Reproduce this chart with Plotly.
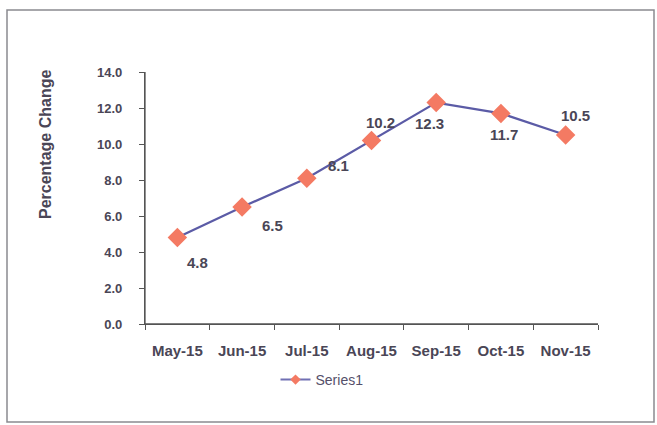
import plotly.graph_objects as go

months = ["May-15", "Jun-15", "Jul-15", "Aug-15", "Sep-15", "Oct-15", "Nov-15"]
values = [4.8, 6.5, 8.1, 10.2, 12.3, 11.7, 10.5]
y_ticks = [0, 2, 4, 6, 8, 10, 12, 14]
# label offsets (pixels) relative to each point
label_dx = [20, 30, 32, 9, -7, 3, 10]
label_dy = [-25, -18, 13, 18, -21, -21, 20]

W, H = 657, 425
L, R, T, B = 145, 59, 72, 101
pw, ph = W - L - R, H - T - B
FONT = "Liberation Sans, Arial"
TXT = "#4a4656"
AX = "#555555"

fig = go.Figure()
fig.add_trace(go.Scatter(
    x=months, y=values, mode="lines+markers", name="Series1",
    showlegend=False,
    line=dict(color="#5b5ba6", width=2.2),
    marker=dict(symbol="diamond", size=15, color="#f47a63",
                line=dict(color="#f47a63", width=0)),
))
# legend entry (smaller marker, like the original legend key)
fig.add_trace(go.Scatter(
    x=[None], y=[None], mode="lines+markers", name="Series1",
    line=dict(color="#7070b4", width=2),
    marker=dict(symbol="diamond", size=8, color="#f47a63"),
))

for m, v, dx, dy in zip(months, values, label_dx, label_dy):
    fig.add_annotation(x=m, y=v, text=f"<b>{v:.1f}</b>", showarrow=False,
                       xshift=dx, yshift=dy,
                       font=dict(family=FONT, size=15, color=TXT))

def px_x(p):
    return (p - L) / pw

def px_y(p):
    return (H - B - p) / ph

fig.add_annotation(xref="paper", yref="paper",
                   x=px_x(45), y=px_y(145), xanchor="center", yanchor="middle",
                   text="<b>Percentage Change</b>", textangle=-90,
                   showarrow=False,
                   font=dict(family=FONT, size=16, color=TXT))

# outer chart border
fig.add_shape(type="rect", xref="paper", yref="paper",
              x0=px_x(7), x1=px_x(654), y0=px_y(422), y1=px_y(10),
              line=dict(color="#8a8a90", width=1.5))
# axis lines
fig.add_shape(type="line", xref="paper", yref="paper", x0=0, x1=0, y0=0, y1=1,
              line=dict(color=AX, width=1.3))
fig.add_shape(type="line", xref="paper", yref="paper", x0=0, x1=1, y0=0, y1=0,
              line=dict(color=AX, width=1.3))

fig.update_layout(
    width=W, height=H,
    margin=dict(l=L, r=R, t=T, b=B),
    paper_bgcolor="white", plot_bgcolor="white",
    font=dict(family=FONT, color=TXT),
    showlegend=True,
    legend=dict(orientation="h", x=px_x(322), y=px_y(380),
                xanchor="center", yanchor="middle",
                font=dict(size=14, color="#55506a"),
                bgcolor="rgba(0,0,0,0)"),
    xaxis=dict(
        type="category", tickson="boundaries", ticks="outside", ticklen=5,
        tickcolor=AX, showline=True, linecolor=AX, linewidth=1.3,
        showgrid=False, tickfont=dict(size=15, color=TXT),
        tickvals=months, ticktext=[f"<b>{m}</b>" for m in months],
        range=[-0.5, 6.5], ticklabelstandoff=13,
    ),
    yaxis=dict(
        range=[0, 14], tickvals=y_ticks,
        ticktext=[f"<b>{t:.1f}</b>" for t in y_ticks],
        ticks="outside", ticklen=5, tickcolor=AX,
        showline=True, linecolor=AX, linewidth=1.3, showgrid=False,
        zeroline=False, tickfont=dict(size=13, color=TXT),
        ticklabelstandoff=14,
    ),
)

fig.write_html("out.html", config={"displayModeBar": False},
               post_script="document.body.style.margin='0';document.body.style.overflow='hidden';")
